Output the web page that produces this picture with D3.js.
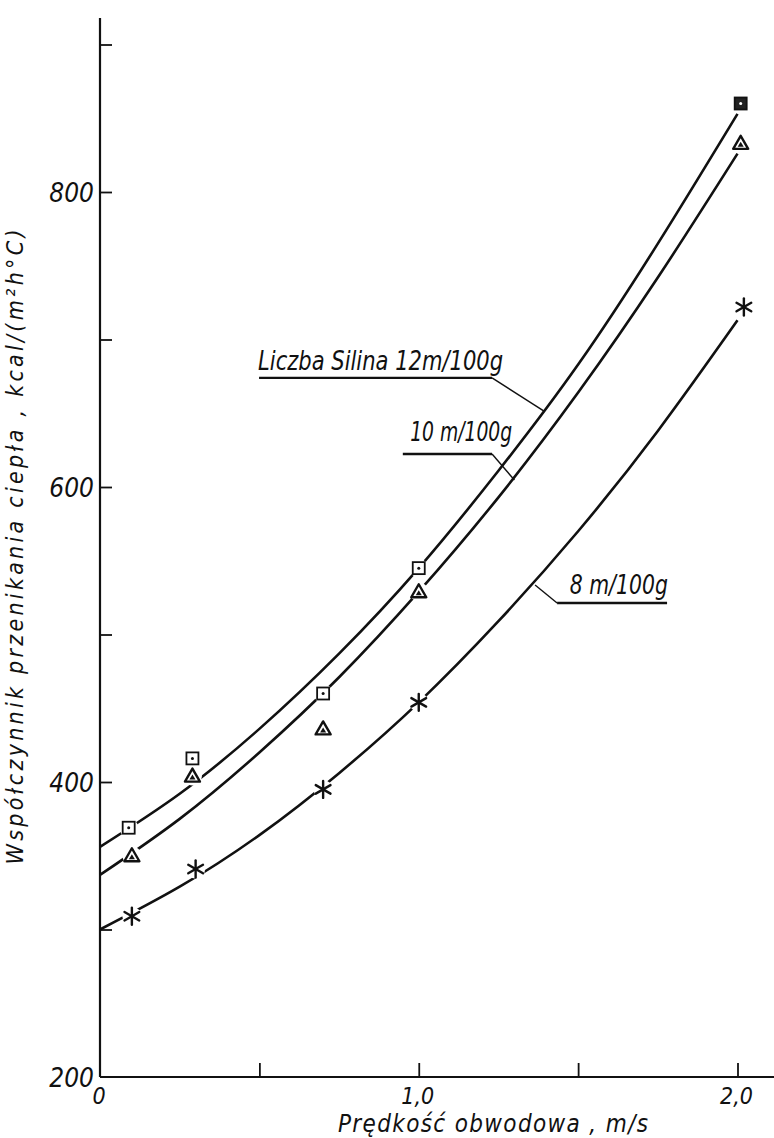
<!DOCTYPE html>
<html>
<head>
<meta charset="utf-8">
<script src="https://cdn.jsdelivr.net/npm/d3@7"></script>
<style>
  body { margin: 0; background: #fff; }
  text {
    font-family: "Liberation Sans Narrow", "DejaVu Sans Condensed", "Liberation Sans", sans-serif;
    font-style: italic;
    fill: #111;
  }
</style>
</head>
<body>
<div id="chart"></div>
<script>
// measured points (speed m/s, heat transfer kcal/(m2 h C))
const sqX = [0.09, 0.29, 0.70, 1.00, 2.01];
const sqY = [369, 416, 460, 545, 860];
const triX = [0.10, 0.29, 0.70, 1.00, 2.01];
const triY = [350, 404, 436, 529, 833];
const starX = [0.10, 0.30, 0.70, 1.00, 2.02];
const starY = [309, 341, 395, 454, 722];

// fitted curves
const curveX = [0, 0.25, 0.5, 0.75, 1.0, 1.25, 1.5, 1.75, 2.0];
const curve12 = [356, 392, 436, 487, 545, 611, 683, 765, 853];
const curve10 = [337, 375, 420, 471, 529, 593, 664, 742, 826];
const curve8 = [300, 329, 364, 406, 454, 509, 570, 638, 713];

// ticks
const xTicks = [0.5, 1.0, 1.5, 2.0];
const xTickLabels = [0, 1.0, 2.0];
const yTicks = [300, 400, 500, 600, 700, 800, 900];
const yTickLabels = [200, 400, 600, 800];

const width = 774, height = 1138;

const svg = d3.select("#chart")
    .append("svg")
    .attr("width", width)
    .attr("height", height);

const x = d3.scaleLinear().domain([0, 2]).range([100, 737.5]);
const y = d3.scaleLinear().domain([200, 900]).range([1077, 44.5]);

// axis lines
svg.append("line")
    .attr("x1", x(0)).attr("x2", x(0))
    .attr("y1", y(200)).attr("y2", y(918))
    .attr("stroke", "#111").attr("stroke-width", 2.2);
svg.append("line")
    .attr("x1", x(0)).attr("x2", width)
    .attr("y1", y(200)).attr("y2", y(200))
    .attr("stroke", "#111").attr("stroke-width", 2.2);

// ticks
const yAxis = svg.append("g")
    .attr("transform", `translate(${x(0)},0)`)
    .call(d3.axisRight(y).tickValues(yTicks).tickSize(12).tickFormat(""));
yAxis.select(".domain").remove();
yAxis.selectAll(".tick line").attr("stroke", "#111").attr("stroke-width", 1.8);

const xAxis = svg.append("g")
    .attr("transform", `translate(0,${y(200)})`)
    .call(d3.axisTop(x).tickValues(xTicks).tickSize(14).tickFormat(""));
xAxis.select(".domain").remove();
xAxis.selectAll(".tick line").attr("stroke", "#111").attr("stroke-width", 1.8);

// tick labels
svg.selectAll(".ylab")
    .data(yTickLabels)
    .enter().append("text")
    .attr("class", "ylab")
    .attr("x", x(0) - 6)
    .attr("y", d => y(d) + 10)
    .attr("text-anchor", "end")
    .style("font-size", "26px")
    .text(d => d);

const fmt = d => d === 0 ? "0" : d3.format(".1f")(d).replace(".", ",");
svg.selectAll(".xlab")
    .data(xTickLabels)
    .enter().append("text")
    .attr("class", "xlab")
    .attr("x", d => x(d) - 1)
    .attr("y", y(200) + 27)
    .attr("text-anchor", "middle")
    .style("font-size", "23px")
    .text(fmt);

// axis titles
svg.append("text")
    .attr("x", 493)
    .attr("y", 1132)
    .attr("text-anchor", "middle")
    .attr("textLength", 310)
    .attr("lengthAdjust", "spacing")
    .style("font-size", "24px")
    .text("Prędkość  obwodowa , m/s");

svg.append("text")
    .attr("transform", "translate(23,547) rotate(-90)")
    .attr("text-anchor", "middle")
    .attr("textLength", 635)
    .attr("lengthAdjust", "spacing")
    .style("font-size", "23px")
    .text("Współczynnik  przenikania  ciepła ,  kcal/(m²h°C)");

// curves
const line = d3.line()
    .x(d => x(d[0]))
    .y(d => y(d[1]))
    .curve(d3.curveNatural);

[curve12, curve10, curve8].forEach(c => {
    svg.append("path")
        .datum(curveX.map((v, i) => [v, c[i]]))
        .attr("fill", "none")
        .attr("stroke", "#111")
        .attr("stroke-width", 2.6)
        .attr("d", line);
});

// annotation labels with leader lines (positions in data units)
function label(txt, tx, ty, ux1, ux2, uy, sx, lx, ly, len) {
    svg.append("text")
        .attr("x", x(tx)).attr("y", y(ty))
        .attr("textLength", len)
        .attr("lengthAdjust", "spacingAndGlyphs")
        .style("font-size", "26px")
        .text(txt);
    svg.append("line")
        .attr("x1", x(ux1)).attr("x2", x(ux2))
        .attr("y1", y(uy)).attr("y2", y(uy))
        .attr("stroke", "#111").attr("stroke-width", 2.4);
    svg.append("line")
        .attr("x1", x(sx)).attr("x2", x(lx))
        .attr("y1", y(uy)).attr("y2", y(ly))
        .attr("stroke", "#111").attr("stroke-width", 1.4);
}
label("Liczba  Silina 12m/100g", 0.496, 679.5, 0.499, 1.23, 674, 1.23, 1.393, 651.4, 245);
label("10 m/100g", 0.973, 631, 0.95, 1.23, 622.4, 1.23, 1.30, 604.7, 102);
label("8 m/100g", 1.474, 527.5, 1.434, 1.779, 521.4, 1.434, 1.365, 533.6, 98);

// white halos break the curves around the markers
function halos(xs, ys) {
    svg.append("g").selectAll("circle")
        .data(xs.map((v, i) => [v, ys[i]]))
        .enter().append("circle")
        .attr("cx", d => x(d[0]))
        .attr("cy", d => y(d[1]))
        .attr("r", 9.5)
        .attr("fill", "#fff");
}
halos(sqX, sqY);
halos(triX, triY);
halos(starX, starY);

// squares
const sq = svg.append("g").selectAll("g")
    .data(sqX.map((v, i) => [v, sqY[i]]))
    .enter().append("g")
    .attr("transform", d => `translate(${x(d[0])},${y(d[1])})`);
sq.append("rect")
    .attr("x", -6).attr("y", -6)
    .attr("width", 12).attr("height", 12)
    .attr("fill", (d, i) => i === sqX.length - 1 ? "#222" : "#fff")
    .attr("stroke", "#111").attr("stroke-width", 1.8);
sq.append("circle")
    .attr("r", 1.5)
    .attr("fill", (d, i) => i === sqX.length - 1 ? "#fff" : "#111");

// triangles
const tri = svg.append("g").selectAll("g")
    .data(triX.map((v, i) => [v, triY[i]]))
    .enter().append("g")
    .attr("transform", d => `translate(${x(d[0])},${y(d[1])})`);
tri.append("path")
    .attr("d", "M0,-7.5 L7.5,5.5 L-7.5,5.5 Z")
    .attr("fill", "#fff")
    .attr("stroke", "#111").attr("stroke-width", 2.4)
    .attr("stroke-linejoin", "round");
tri.append("path")
    .attr("d", "M-3,3.5 L0,-1.5 L3,3.5 Z")
    .attr("fill", "#111");

// stars
const star = svg.append("g").selectAll("g")
    .data(starX.map((v, i) => [v, starY[i]]))
    .enter().append("g")
    .attr("transform", d => `translate(${x(d[0])},${y(d[1])})`);
[90, 30, 150].forEach(a => {
    const r = 8.5, t = a * Math.PI / 180;
    star.append("line")
        .attr("x1", -r * Math.cos(t)).attr("y1", -r * Math.sin(t))
        .attr("x2", r * Math.cos(t)).attr("y2", r * Math.sin(t))
        .attr("stroke", "#111").attr("stroke-width", 2.4)
        .attr("stroke-linecap", "round");
});
</script>
</body>
</html>
